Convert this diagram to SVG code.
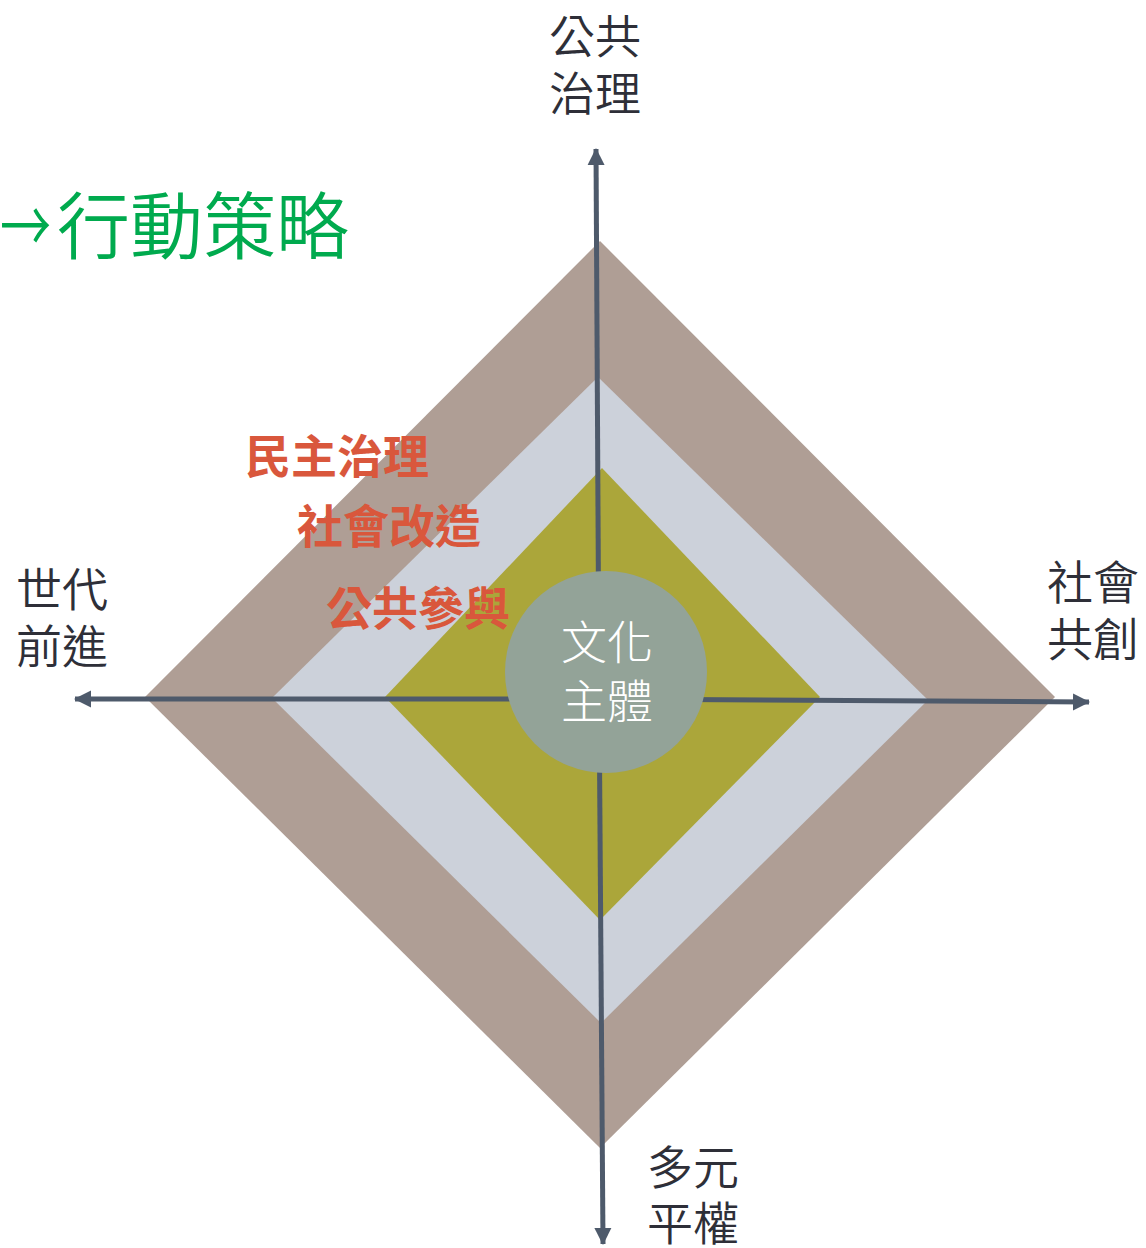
<svg xmlns="http://www.w3.org/2000/svg" width="1146" height="1248" viewBox="0 0 1146 1248">
<defs>
<style>
.lbl{font-family:"Noto Sans CJK TC","Noto Sans CJK SC",sans-serif;font-size:46px;font-weight:350;fill:#2E2F38;}
.red{font-family:"Noto Sans CJK TC","Noto Sans CJK SC",sans-serif;font-size:46px;font-weight:bold;fill:#D9573C;}
.ctr{font-family:"Noto Sans CJK TC","Noto Sans CJK SC",sans-serif;font-size:46px;font-weight:300;fill:#FFFFFF;}
.title{font-family:"Noto Sans CJK TC","Noto Sans CJK SC",sans-serif;font-size:73px;font-weight:350;fill:#00AA4E;}
.axis{stroke:#4E5A6B;stroke-width:5;fill:none;}
</style>
<marker id="ah" markerUnits="userSpaceOnUse" markerWidth="18" markerHeight="18" viewBox="0 0 18 18" refX="16" refY="9" orient="auto">
<path d="M0,0.5 L17,9 L0,17.5 Z" fill="#4E5A6B"/>
</marker>
</defs>
<rect width="1146" height="1248" fill="#FFFFFF"/>
<g id="outer-diamond"><polygon points="600,241 1055,697 600,1148 145,697" fill="#AF9E95"/></g>
<g id="middle-diamond"><polygon points="598,377 928,700 601,1023 272,698" fill="#CCD1DA"/></g>
<g id="inner-diamond"><polygon points="602,468 820,697 600,920 385,697" fill="#ABA63A"/></g>
<g id="connectors">
<line class="axis" x1="599" y1="690" x2="596" y2="149" marker-end="url(#ah)"/>
<line class="axis" x1="599" y1="690" x2="603" y2="1244" marker-end="url(#ah)"/>
<line class="axis" x1="600" y1="699" x2="75" y2="699" marker-end="url(#ah)"/>
<line class="axis" x1="600" y1="699" x2="1089" y2="702" marker-end="url(#ah)"/>
</g>
<g id="center">
<circle cx="606" cy="672" r="101" fill="#93A398"/>
<text class="ctr" x="561" y="659">文化</text>
<text class="ctr" x="561" y="718">主體</text>
</g>
<g id="top-label">
<text class="lbl" x="549" y="53">公共</text>
<text class="lbl" x="549" y="110">治理</text>
</g>
<g id="left-label">
<text class="lbl" x="16" y="606">世代</text>
<text class="lbl" x="16" y="663">前進</text>
</g>
<g id="right-label">
<text class="lbl" x="1047" y="599">社會</text>
<text class="lbl" x="1047" y="656">共創</text>
</g>
<g id="bottom-label">
<text class="lbl" x="647" y="1184">多元</text>
<text class="lbl" x="647" y="1240">平權</text>
</g>
<g id="layer-labels">
<text class="red" x="245" y="473">民主治理</text>
<text class="red" x="297" y="543">社會改造</text>
<text class="red" x="326" y="625">公共參與</text>
</g>
<g id="title">
<text class="title" transform="translate(0,253) scale(0.7,1)" x="0" y="0">→</text>
<text class="title" x="57" y="253">行動策略</text>
</g>
</svg>
